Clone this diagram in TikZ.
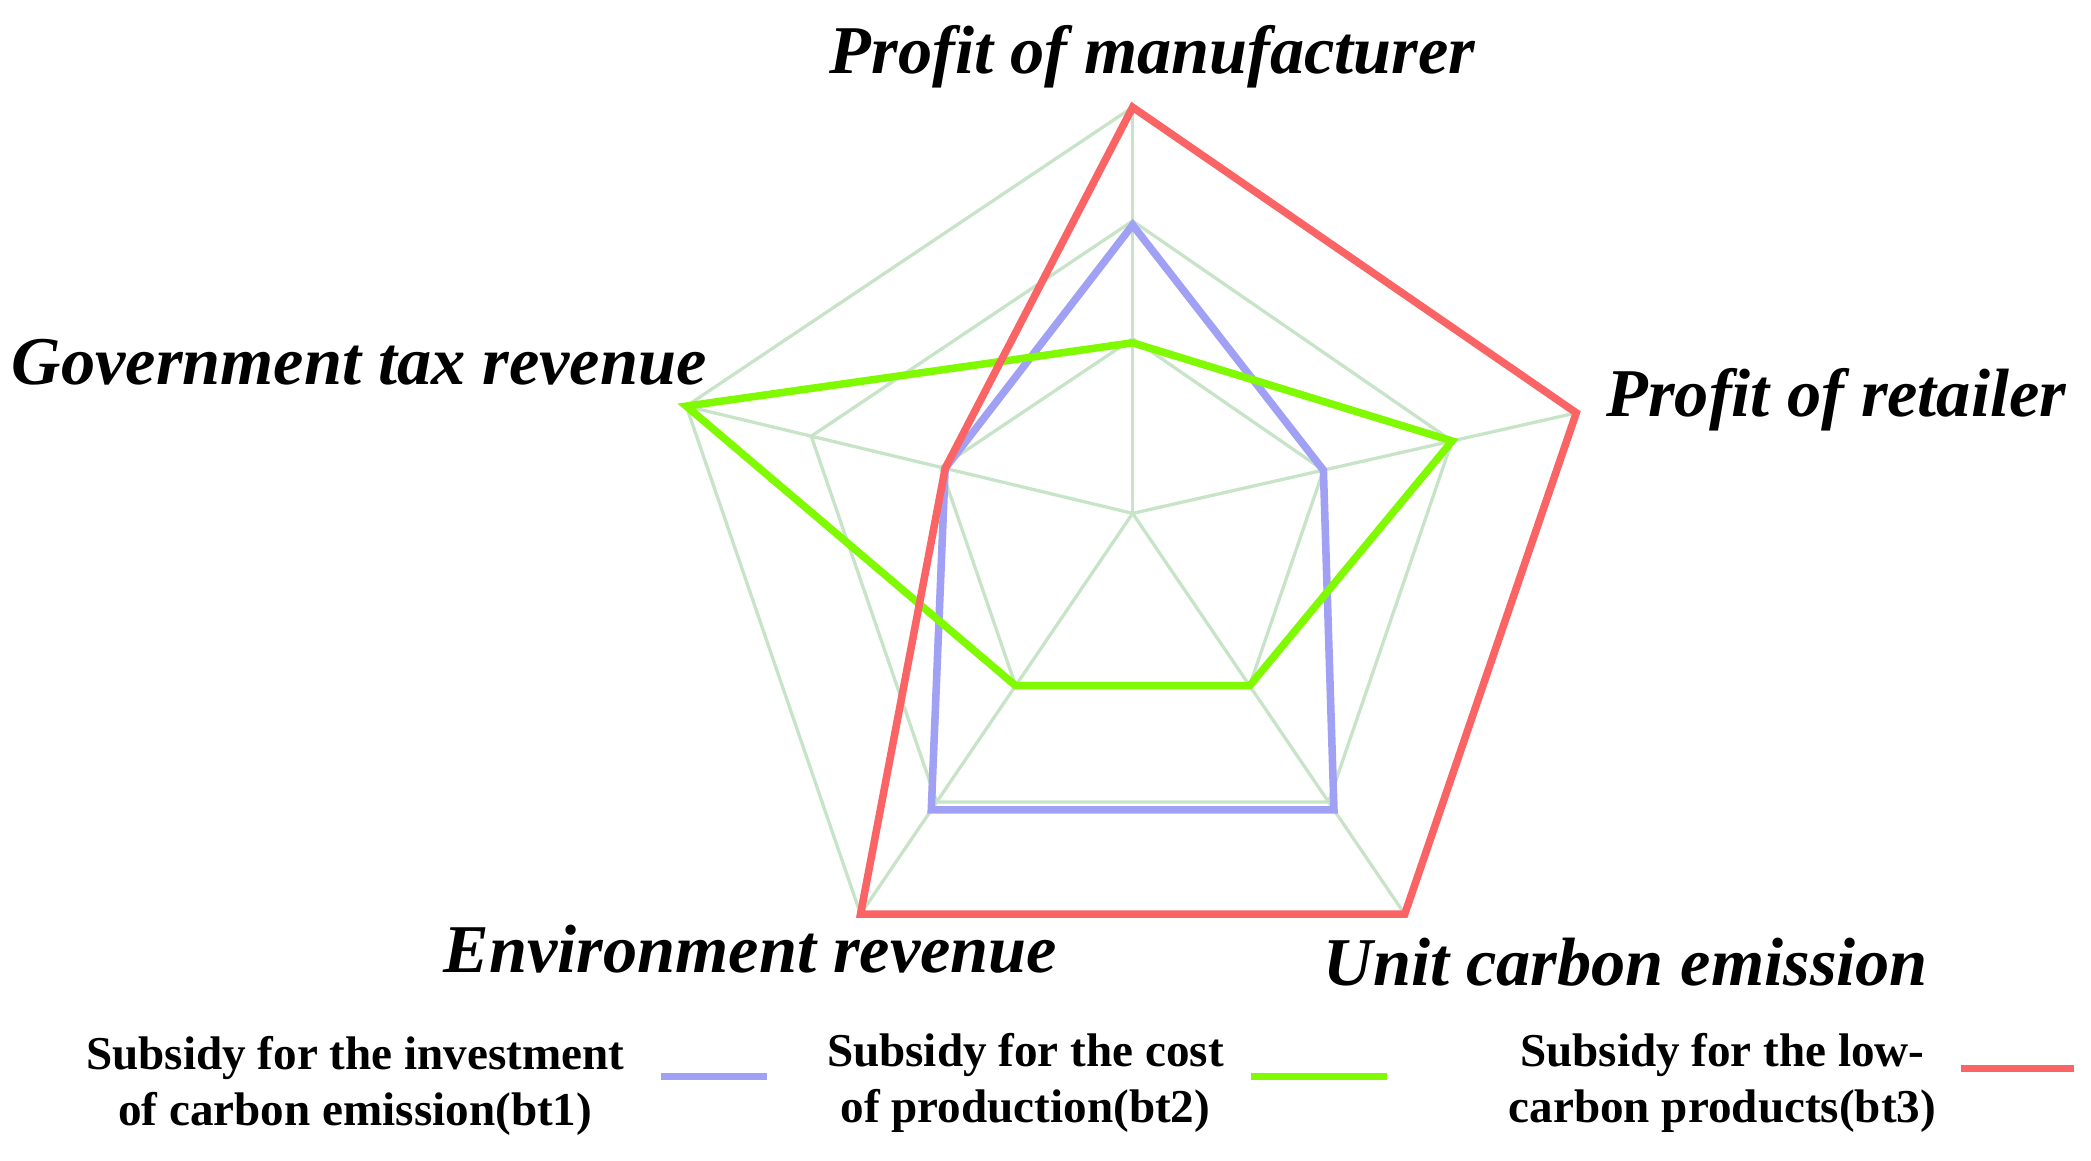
\documentclass[tikz,border=0pt]{standalone}
\usepackage{fontspec}
\setmainfont{Liberation Serif}
\usetikzlibrary{calc}
\begin{document}
\begin{tikzpicture}[x=0.01cm,y=-0.01cm,
  grid/.style={draw={rgb,255:red,200;green,228;blue,200},line width=0.7pt},
  ser/.style={line width=1.6pt,line join=miter},
  axlab/.style={font=\fontsize{14.5}{16}\selectfont\bfseries\itshape},
  leg/.style={font=\fontsize{10}{12}\selectfont\bfseries,align=center}]
\definecolor{cb}{RGB}{160,160,245}
\definecolor{cg}{RGB}{128,250,0}
\definecolor{cr}{RGB}{250,100,100}
\useasboundingbox (0,0) rectangle (1560,866);
\coordinate (O) at (845,383);
\coordinate (A) at (845,80);
\coordinate (B) at (1176,308);
\coordinate (C) at (1048,682);
\coordinate (D) at (642,682);
\coordinate (E) at (512,303);
\foreach \f in {0.43,0.72,1}{
  \draw[grid] ($(O)!\f!(A)$) -- ($(O)!\f!(B)$) -- ($(O)!\f!(C)$) -- ($(O)!\f!(D)$) -- ($(O)!\f!(E)$) -- cycle;}
\foreach \p in {A,B,C,D,E} \draw[grid] (O) -- (\p);
\draw[ser,cb] ($(O)!0.71!(A)$) -- ($(O)!0.43!(B)$) -- ($(O)!0.74!(C)$) -- ($(O)!0.74!(D)$) -- ($(O)!0.42!(E)$) -- cycle;
\draw[ser,cg] ($(O)!0.42!(A)$) -- ($(O)!0.72!(B)$) -- ($(O)!0.43!(C)$) -- ($(O)!0.43!(D)$) -- (E) -- cycle;
\draw[ser,cr] (A) -- (B) -- (C) -- (D) -- ($(O)!0.42!(E)$) -- cycle;
\node[axlab] (la) at (860,42) {Profit of manufacturer};
\node[axlab] (le) at (268,270) {Government tax revenue};
\node[axlab] (lb) at (1370,298) {Profit of retailer};
\node[axlab] (ld) at (560,708) {Environment revenue};
\node[axlab] (lc) at (1213,718) {Unit carbon emission};
\node[leg] (t1) at (265,810) {Subsidy for the investment\\of carbon emission(bt1)};
\node[leg] (t2) at (765,808) {Subsidy for the cost\\of production(bt2)};
\node[leg] (t3) at (1285,808) {Subsidy for the low-\\carbon products(bt3)};
\coordinate (b1) at (493,803); \coordinate (b2) at (572,803);
\coordinate (g1) at (933,803); \coordinate (g2) at (1035,803);
\coordinate (r1) at (1463,797); \coordinate (r2) at (1547,797);
\draw[ser,cb] (b1) -- (b2);
\draw[ser,cg] (g1) -- (g2);
\draw[ser,cr] (r1) -- (r2);
\end{tikzpicture}
\end{document}
